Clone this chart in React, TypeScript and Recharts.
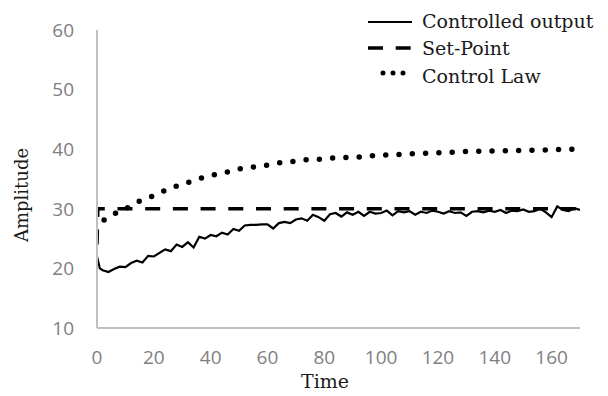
import { LineChart, Line, XAxis, YAxis } from 'recharts';

// Controlled output (noisy)
const outTimes = [
  0, 1, 2, 4, 6, 8, 10, 12, 14, 16, 18, 20, 22, 24, 26, 28, 30, 32, 34, 36, 38, 40,
  42, 44, 46, 48, 50, 52, 54, 56, 58, 60, 62, 64, 66, 68, 70, 72, 74, 76, 78, 80,
  82, 84, 86, 88, 90, 92, 94, 96, 98, 100, 102, 104, 106, 108, 110, 112, 114, 116,
  118, 120, 122, 124, 126, 128, 130, 132, 134, 136, 138, 140, 142, 144, 146, 148,
  150, 152, 154, 156, 158, 160, 162, 164, 166, 168, 170,
];
const outValues = [
  22.0, 20.0, 19.7, 19.4, 19.9, 20.3, 20.2, 20.9, 21.3, 21.0, 22.1, 22.0, 22.6, 23.2,
  22.9, 24.0, 23.6, 24.4, 23.5, 25.3, 25.0, 25.6, 25.4, 26.0, 25.7, 26.6, 26.3, 27.2,
  27.3, 27.3, 27.4, 27.4, 26.7, 27.6, 27.8, 27.6, 28.2, 28.4, 28.0, 29.0, 28.6, 28.0,
  29.1, 29.3, 28.7, 29.4, 29.0, 29.5, 28.8, 29.5, 29.2, 29.3, 29.7, 28.9, 29.6, 29.4,
  29.6, 29.0, 29.5, 29.3, 29.7, 29.5, 29.2, 29.6, 29.3, 29.4, 28.8, 29.5, 29.6, 29.4,
  29.7, 29.5, 29.8, 29.3, 29.7, 29.6, 29.9, 29.5, 29.6, 30.0, 29.4, 28.6, 30.4, 29.8,
  29.6, 30.1, 29.8,
];

// Set-point step
const spTimes = [0, 0.3, 170];
const spValues = [24, 30, 30];

// Control law
const lawTimes = [
  2.5, 6.7, 11.3, 15, 19.5, 23.6, 28, 32.5, 37, 41, 46, 50, 55, 59.5, 64, 68, 73, 78,
  82.5, 87, 92, 96.6, 101, 110, 120, 130, 140, 150, 160, 168,
];
const lawValues = [
  28.1, 29.3, 30.3, 31.3, 32.1, 33.0, 33.8, 34.5, 35.2, 35.7, 36.2, 36.7, 37.0, 37.3,
  37.7, 37.9, 38.2, 38.3, 38.5, 38.6, 38.7, 38.9, 39.0, 39.2, 39.4, 39.6, 39.7, 39.8,
  39.9, 40.0,
];

const xTicks = [0, 20, 40, 60, 80, 100, 120, 140, 160];
const yTicks = [10, 20, 30, 40, 50, 60];

const toPoints = (ts: number[], vs: number[]) => ts.map((t, i) => ({ t, v: vs[i] }));

const outData = toPoints(outTimes, outValues);
const spData = toPoints(spTimes, spValues);
const lawData = toPoints(lawTimes, lawValues);

const tickStyle = { fill: '#808080', fontSize: 19, fontFamily: '"Open Sans", sans-serif' };
const serif = '"DejaVu Serif", serif';

export default function App() {
  return (
    <div style={{ position: 'absolute', left: 0, top: 0, width: 608, height: 396, background: '#fff' }}>
      <LineChart width={608} height={396} margin={{ top: 30, right: 28, left: 37, bottom: 38 }}>
        <XAxis
          dataKey="t"
          type="number"
          domain={[0, 170]}
          ticks={xTicks}
          tickLine={false}
          tickSize={0}
          tickMargin={23}
          tick={tickStyle}
          axisLine={{ stroke: '#c0c0c0', strokeWidth: 2 }}
          allowDataOverflow
          height={30}
        />
        <YAxis
          type="number"
          domain={[10, 60]}
          ticks={yTicks}
          tickLine={false}
          tickSize={0}
          tickMargin={23}
          tick={tickStyle}
          axisLine={{ stroke: '#c0c0c0', strokeWidth: 2 }}
          width={60}
        />
        <Line
          data={spData}
          dataKey="v"
          type="linear"
          stroke="#000"
          strokeWidth={3.5}
          strokeDasharray="15 12.7"
          dot={false}
          isAnimationActive={false}
        />
        <Line
          data={lawData}
          dataKey="v"
          type="monotone"
          stroke="#000"
          strokeWidth={5.5}
          strokeLinecap="round"
          strokeDasharray="0 13.3"
          dot={false}
          isAnimationActive={false}
        />
        <Line
          data={outData}
          dataKey="v"
          type="linear"
          stroke="#000"
          strokeWidth={2.2}
          dot={false}
          isAnimationActive={false}
        />
      </LineChart>
      <svg
        width={608}
        height={396}
        style={{ position: 'absolute', left: 0, top: 0, pointerEvents: 'none' }}
      >
        <line x1={368} y1={22} x2={412} y2={22} stroke="#000" strokeWidth={2.2} />
        <line x1={368} y1={48} x2={412} y2={48} stroke="#000" strokeWidth={3.5} strokeDasharray="15 12.7" />
        <line
          x1={383}
          y1={73}
          x2={412}
          y2={73}
          stroke="#000"
          strokeWidth={5}
          strokeLinecap="round"
          strokeDasharray="0 10"
        />
        <g fontFamily={serif} fontSize={19} fill="#1a1a1a">
          <text x={422} y={28}>Controlled output</text>
          <text x={422} y={55}>Set-Point</text>
          <text x={422} y={83}>Control Law</text>
        </g>
        <text x={325} y={388} textAnchor="middle" fontFamily={serif} fontSize={19} fill="#1a1a1a">
          Time
        </text>
        <text
          transform="translate(28,195) rotate(-90)"
          textAnchor="middle"
          fontFamily={serif}
          fontSize={18}
          fill="#1a1a1a"
        >
          Amplitude
        </text>
      </svg>
    </div>
  );
}
